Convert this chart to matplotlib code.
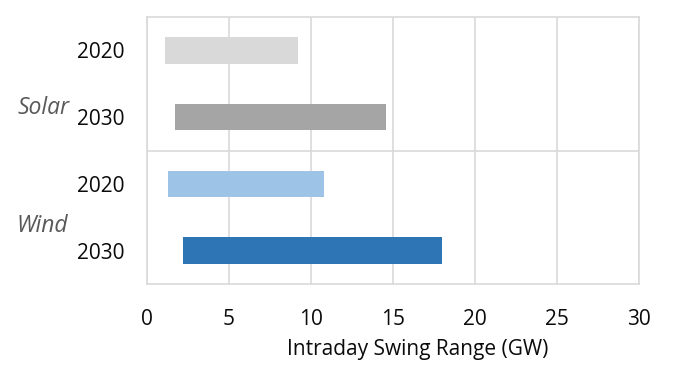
import numpy as np
import matplotlib
matplotlib.use("Agg")
import matplotlib.pyplot as plt

# swing range per technology/year (GW): low end and high end of each bar
groups = ["Solar", "Solar", "Wind", "Wind"]
years = ["2020", "2030", "2020", "2030"]
low = [1.1, 1.7, 1.3, 2.2]
high = [9.2, 14.6, 10.8, 18.0]
colors = ["#d9d9d9", "#a5a5a5", "#9dc3e6", "#2e75b6"]

GRID = "#d9d9d9"
plt.rcParams["font.family"] = ["Open Sans", "DejaVu Sans"]

fig = plt.figure(figsize=(6.86, 3.83), dpi=100)
ax = fig.add_axes([147 / 686, 1 - 284 / 383, 492 / 686, 267 / 383])

y = np.arange(len(years))
ax.barh(y, np.array(high) - np.array(low), left=low, height=0.4, color=colors, zorder=2)

ax.set_xlim(0, 30)
ax.set_ylim(len(years) - 0.5, -0.5)
ax.set_xticks(np.arange(0, 31, 5))
ax.set_yticks(y, years)
ax.tick_params(axis="y", length=0, pad=16, labelsize=15, labelcolor="#0b0b0b")
ax.tick_params(axis="x", length=0, pad=18, labelsize=15, labelcolor="#0b0b0b")
ax.grid(axis="x", color=GRID, lw=1.2, zorder=0)
ax.axhline(1.5, color=GRID, lw=1.2, zorder=0)
for s in ax.spines.values():
    s.set_color(GRID)
    s.set_linewidth(1.2)

# group labels
fig.text(70 / 686, 1 - 108 / 383, "Solar", ha="right", va="center", style="italic",
         fontsize=16.5, color="#595959")
fig.text(68 / 686, 1 - 226 / 383, "Wind", ha="right", va="center", style="italic",
         fontsize=16.5, color="#595959")
fig.text(418 / 686, 1 - 350 / 383, "Intraday Swing Range (GW)", ha="center", va="center",
         fontsize=15, color="#0b0b0b")

fig.savefig("out.png", dpi=100)
